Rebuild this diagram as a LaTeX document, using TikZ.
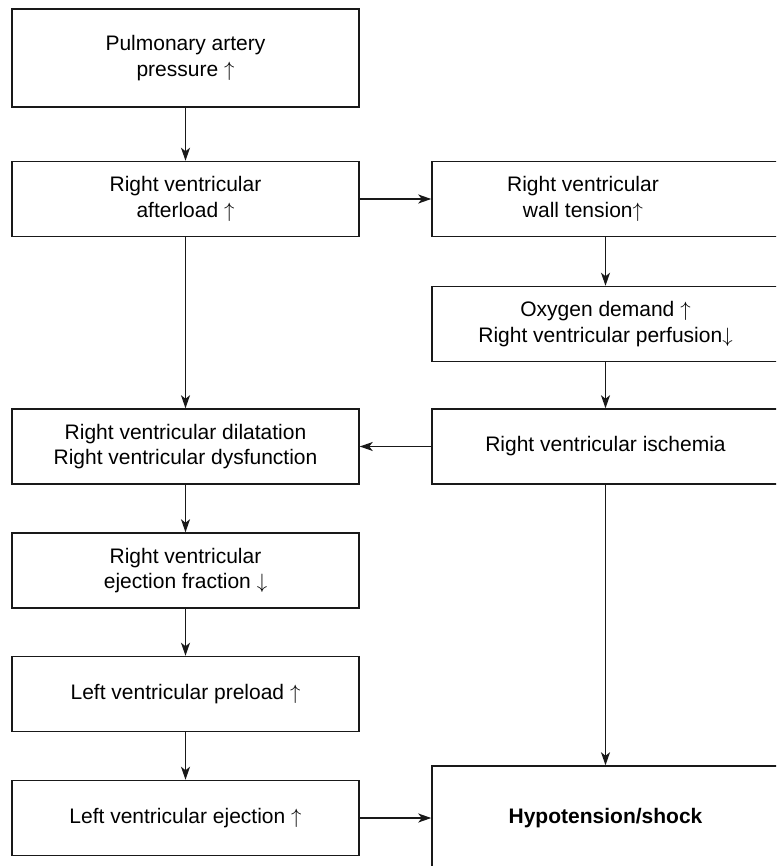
\documentclass[tikz,border=0pt]{standalone}
\usepackage{fontspec}
\setmainfont{Liberation Sans}
\usetikzlibrary{arrows.meta}

% thin arrows used in the box texts
\newcommand{\upar}{\ensuremath{\uparrow}}
\newcommand{\dnar}{\ensuremath{\downarrow}}

\tikzset{
  box/.style={draw=black!90, line width=1.5pt, rectangle, minimum width=347pt,
    minimum height=75pt, align=center, inner sep=0pt,
    font=\fontsize{21}{25.5}\selectfont},
  txt/.style={align=center, inner sep=0pt, font=\fontsize{21}{25.5}\selectfont},
  flow/.style={draw=black!90, line width=1.3pt,
    -{Stealth[length=13pt, width=9pt, inset=3.5pt]}}
}

\begin{document}
\begin{tikzpicture}[x=1pt, y=-1pt]
  \clip (0,0) rectangle (776,866);

  % left column
  \node[box, minimum height=98pt] (pap) at (185.5,58) {Pulmonary artery\\pressure \upar};
  \node[box] (afl) at (185.5,199) {Right ventricular\\afterload \upar};
  \node[box] (dil) at (185.5,446.5) {Right ventricular dilatation\\Right ventricular dysfunction};
  \node[box] (ef)  at (185.5,570.5) {Right ventricular\\ejection fraction \dnar};
  \node[box] (pre) at (185.5,694) {Left ventricular preload \upar};
  \node[box] (ej)  at (185.5,818) {Left ventricular ejection \upar};

  % right column
  \node[box] (wt) at (605.5,199) {};
  \node[txt] (wtt) at (583,199) {Right ventricular\\wall tension\upar};
  \node[box] (ox) at (605.5,324) {Oxygen demand \upar\\Right ventricular perfusion\dnar};
  \node[box] (isc) at (605.5,446.5) {Right ventricular ischemia};
  \node[box, minimum height=104pt, font=\fontsize{21}{25.5}\selectfont\bfseries] (hyp) at (605.5,818) {Hypotension/shock};

  % connectors
  \draw[flow] (pap) -- (afl);
  \draw[flow] (afl) -- (wt);
  \draw[flow] (afl) -- (dil);
  \draw[flow] (wt) -- (ox);
  \draw[flow] (ox) -- (isc);
  \draw[flow] (isc) -- (dil);
  \draw[flow] (isc) -- (hyp);
  \draw[flow] (dil) -- (ef);
  \draw[flow] (ef) -- (pre);
  \draw[flow] (pre) -- (ej);
  \draw[flow] (ej) -- (hyp);
\end{tikzpicture}
\end{document}
